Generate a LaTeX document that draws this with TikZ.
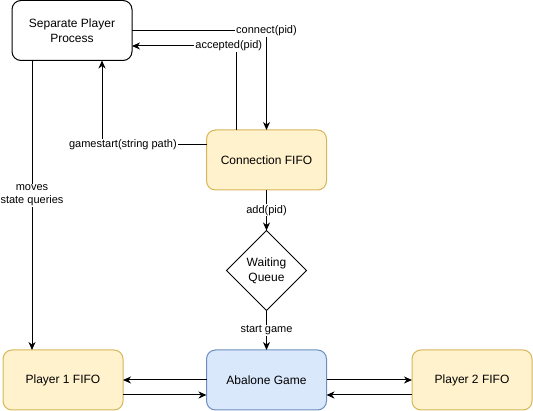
\documentclass[tikz,border=0pt]{standalone}
\usepackage{fontspec}
\setmainfont{Liberation Sans}
\usetikzlibrary{arrows.meta,shapes.geometric}
\definecolor{fifofill}{HTML}{FFF2CC}
\definecolor{fifoline}{HTML}{D6B656}
\definecolor{gamefill}{HTML}{DAE8FC}
\definecolor{gameline}{HTML}{6C8EBF}
\tikzset{every picture/.append style={x=1pt,y=-1pt}}
\tikzset{box/.style={rounded corners=9pt, minimum width=120pt, minimum height=60pt, inner sep=0pt, outer sep=0pt, line width=1pt, align=center, font=\fontsize{12}{15}\selectfont}}
\tikzset{proc/.style={box, draw=black, fill=white}}
\tikzset{fifo/.style={box, draw=fifoline, fill=fifofill}}
\tikzset{game/.style={box, draw=gameline, fill=gamefill}}
\tikzset{queue/.style={diamond, draw=black, line width=1pt, minimum width=80pt, minimum height=80pt, inner sep=0pt, outer sep=0pt, align=center, font=\fontsize{12}{15}\selectfont}}
\tikzset{arc/.style={line width=1pt, -{Stealth[length=8pt,width=7pt,inset=2.5pt]}}}
\tikzset{elabel/.style={fill=white, inner sep=1pt, align=center, font=\fontsize{11}{13}\selectfont}}

\begin{document}
\begin{tikzpicture}
\useasboundingbox (0,0) rectangle (533,411);
\node (spp) at (72,30.5)[proc]{Separate Player\\Process};
\node (conn) at (266.5,160)[fifo]{Connection FIFO};
\node (wq) at (266.5,270.5)[queue]{Waiting\\Queue};
\node (game) at (266.5,380)[game]{Abalone Game};
\node (p1) at (63,380)[fifo]{Player 1 FIFO};
\node (p2) at (472,380)[fifo]{Player 2 FIFO};

%connection handshake
\draw[arc] (spp.east) -| node[elabel]{connect(pid)} (conn.north);
\draw[arc] ([xshift=-30]conn.north) |- node[elabel, pos=0.537]{accepted(pid)} ([yshift=-15.5]spp.east);
\draw[arc] ([yshift=15]conn.west) -| node[elabel, pos=0.4]{gamestart(string path)} ([xshift=30]spp.south);
\draw[arc] ([xshift=-40]spp.south) -- node[elabel, pos=0.466]{moves\\state queries} ([xshift=-40]spp.south |- p1.north);

%queue to game
\draw[arc] (conn) -- node[elabel]{add(pid)} (wq);
\draw[arc] (wq) -- node[elabel]{start game} (game);

%game and player fifos
\draw[arc] (game.west) -- (p1.east);
\draw[arc] ([yshift=-15]p1.east) -- ([yshift=-15]game.west);
\draw[arc] (game.east) -- (p2.west);
\draw[arc] ([yshift=-15]p2.west) -- ([yshift=-15]game.east);
\end{tikzpicture}
\end{document}
